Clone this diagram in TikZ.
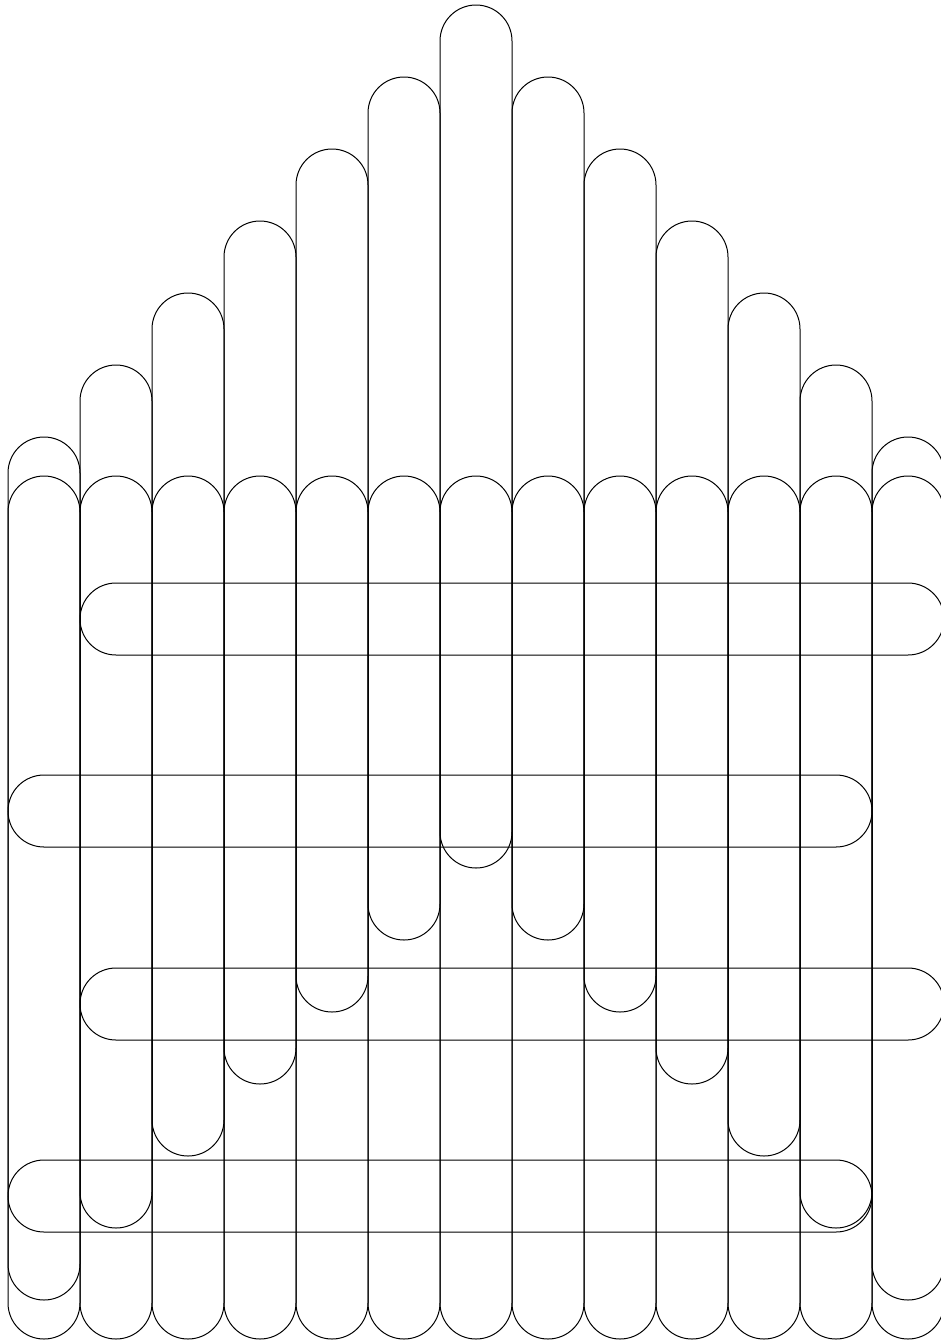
\documentclass[tikz,border=0pt]{standalone}
\usepackage{tikz}
\begin{document}
\begin{tikzpicture}[x=0.5pt, y=-0.5pt,
  bar/.style={draw, line width=0.5pt, rounded corners=18pt},
]
\useasboundingbox (0,0) rectangle (941,1344);
% back row, stepped up towards the middle
\foreach \i in {0,...,12} {
  \pgfmathsetmacro{\ytop}{5+72*abs(\i-6)}
  \draw[bar] (8+72*\i,\ytop) rectangle ++(72,863);
}
% front row
\foreach \i in {0,...,12}
  \draw[bar] (8+72*\i,476) rectangle ++(72,863);
% cross bars
\draw[bar] (80,583) rectangle (944,655);
\draw[bar] (8,775) rectangle (872,847);
\draw[bar] (80,968) rectangle (944,1040);
\draw[bar] (8,1160) rectangle (872,1232);
\end{tikzpicture}
\end{document}
